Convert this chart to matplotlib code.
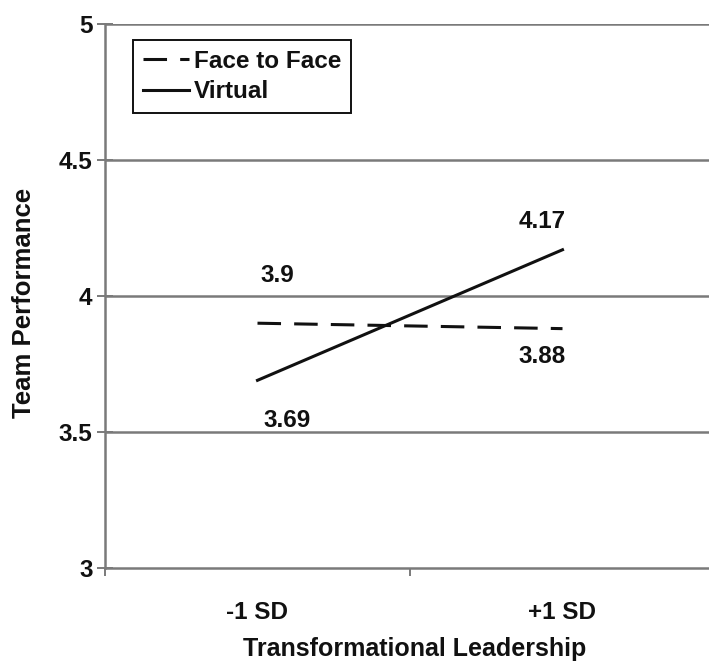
import matplotlib
matplotlib.use("Agg")
import matplotlib.pyplot as plt

plt.rcParams['font.family'] = ['Liberation Sans', 'DejaVu Sans']
plt.rcParams['font.weight'] = 'bold'

categories = ["-1 SD", "+1 SD"]
face_to_face = [3.90, 3.88]
virtual = [3.69, 4.17]
yticks = [3, 3.5, 4, 4.5, 5]
ytick_labels = ["3", "3.5", "4", "4.5", "5"]

W, H = 709, 665
FS = 17.5
fig = plt.figure(figsize=(W / 100, H / 100), dpi=100)
ax = fig.add_axes([105 / W, (H - 568) / H, 610 / W, 544 / H])

xpos = [i + 0.5 for i in range(len(categories))]
grid_c = "#7a7a7a"
txt_c = "#111111"

ax.set_xlim(0, len(categories))
ax.set_ylim(3, 5)
for y in yticks[1:]:
    ax.axhline(y, color=grid_c, lw=1.8, zorder=1)

l1, = ax.plot(xpos, face_to_face, color="#111111", lw=2.2, dashes=(7.7, 4.3),
              label="Face to Face", zorder=3)
l2, = ax.plot(xpos, virtual, color="#111111", lw=2.2, label="Virtual", zorder=3)

# value labels
offsets_ff = [(20, 48), (-20, -28)]
offsets_v = [(30, -40), (-20, 28)]
for x, v, off in zip(xpos, face_to_face, offsets_ff):
    ax.annotate(f"{v:g}", (x, v), xytext=off, textcoords="offset pixels",
                ha="center", va="center", fontsize=FS, fontweight="bold", color=txt_c)
for x, v, off in zip(xpos, virtual, offsets_v):
    ax.annotate(f"{v:g}", (x, v), xytext=off, textcoords="offset pixels",
                ha="center", va="center", fontsize=FS, fontweight="bold", color=txt_c)

for s in ["top", "right"]:
    ax.spines[s].set_visible(False)
ax.spines["left"].set_color(grid_c)
ax.spines["bottom"].set_color(grid_c)
ax.spines["left"].set_linewidth(1.8)
ax.spines["bottom"].set_linewidth(1.8)

ax.set_yticks(yticks)
ax.set_yticklabels(ytick_labels, fontsize=FS, fontweight="bold", color=txt_c)
ax.tick_params(axis="y", direction="inout", length=12, width=1.4, color=grid_c, pad=3)

ax.set_xticks(range(len(categories) + 1))
ax.set_xticklabels([])
ax.tick_params(axis="x", which="major", direction="out", length=6, width=1.4, color=grid_c)
ax.set_xticks(xpos, minor=True)
ax.set_xticklabels(categories, minor=True, fontsize=FS, fontweight="bold", color=txt_c)
ax.tick_params(axis="x", which="minor", length=0, pad=24)

fig.text(24 / W, 1 - 303 / H, "Team Performance", rotation=90, ha="center", va="center",
         fontsize=18.5, fontweight="bold", color=txt_c)
fig.text(415 / W, 1 - 649 / H, "Transformational Leadership", ha="center", va="center",
         fontsize=18, fontweight="bold", color=txt_c)

leg = ax.legend(handles=[l1, l2], loc="upper left",
                bbox_to_anchor=(133 / W, 1 - 40 / H), bbox_transform=fig.transFigure,
                borderaxespad=0, fancybox=False, framealpha=1, edgecolor="#111111",
                prop={"size": FS, "weight": "bold"}, handlelength=1.9,
                handletextpad=0.2, borderpad=0.4, labelspacing=0.3)
leg.get_frame().set_linewidth(1.4)
for t in leg.get_texts():
    t.set_color(txt_c)

fig.savefig("out.png", dpi=100)
